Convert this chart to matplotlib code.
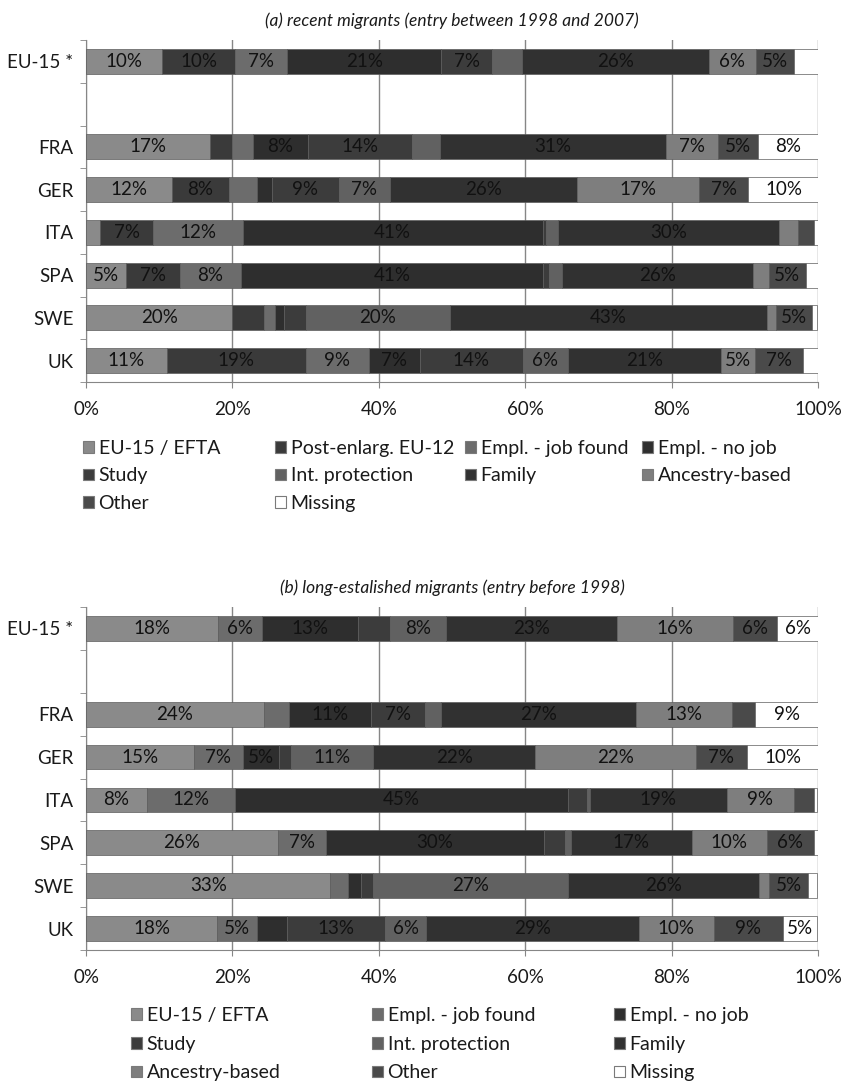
import matplotlib
matplotlib.use("Agg")
import matplotlib.pyplot as plt
from matplotlib import font_manager
from matplotlib.patches import Patch

W, H = 842, 1085

installed = {f.name for f in font_manager.fontManager.ttflist}
FONT = next((f for f in ["Liberation Sans Narrow", "Lato", "Roboto"] if f in installed), "DejaVu Sans")
plt.rcParams['font.family'] = [FONT, 'DejaVu Sans']

countries = ["EU-15 *", "FRA", "GER", "ITA", "SPA", "SWE", "UK"]
# row 1 stays empty to separate the EU-15 total from the countries
slots = [0, 2, 3, 4, 5, 6, 7]

# (a) recent migrants, shares in % per country (order as in countries)
a_eu15_efta = [10.4, 16.9, 11.8, 1.9, 5.4, 20.0, 11.0]
a_post_enlarg = [10.0, 3.1, 7.7, 7.3, 7.4, 4.3, 19.0]
a_job_found = [7.1, 2.8, 3.8, 12.2, 8.4, 1.5, 8.6]
a_no_job = [21.0, 7.5, 2.1, 41.0, 41.2, 1.3, 7.0]
a_study = [7.0, 14.2, 9.1, 0.5, 0.8, 2.9, 14.1]
a_int_prot = [4.0, 3.8, 7.0, 1.6, 1.8, 19.7, 6.1]
a_family = [25.6, 31.0, 25.6, 30.2, 26.1, 43.4, 21.0]
a_ancestry = [6.4, 7.1, 16.6, 2.6, 2.2, 1.1, 4.6]
a_other = [5.2, 5.4, 6.8, 2.1, 5.0, 5.0, 6.6]
a_missing = [3.3, 8.2, 9.6, 0.7, 1.7, 0.7, 2.0]

# (b) long-established migrants
b_eu15_efta = [18.1, 24.3, 14.7, 8.3, 26.2, 33.4, 17.9]
b_job_found = [6.0, 3.5, 6.8, 12.1, 6.6, 2.4, 5.4]
b_no_job = [13.0, 11.1, 4.8, 45.4, 29.7, 1.8, 4.2]
b_study = [4.4, 7.4, 1.7, 2.6, 2.9, 1.6, 13.3]
b_int_prot = [7.7, 2.2, 11.2, 0.5, 0.8, 26.6, 5.7]
b_family = [23.4, 26.7, 22.2, 18.6, 16.6, 26.2, 29.0]
b_ancestry = [15.8, 13.0, 21.9, 9.2, 10.2, 1.3, 10.3]
b_other = [6.0, 3.2, 7.0, 2.8, 6.4, 5.4, 9.4]
b_missing = [5.6, 8.6, 9.7, 0.3, 0.7, 1.2, 4.6]

a_names = ["EU-15 / EFTA", "Post-enlarg. EU-12", "Empl. - job found", "Empl. - no job",
           "Study", "Int. protection", "Family", "Ancestry-based", "Other", "Missing"]
a_series = [a_eu15_efta, a_post_enlarg, a_job_found, a_no_job, a_study,
            a_int_prot, a_family, a_ancestry, a_other, a_missing]

b_names = ["EU-15 / EFTA", "Empl. - job found", "Empl. - no job", "Study",
           "Int. protection", "Family", "Ancestry-based", "Other", "Missing"]
b_series = [b_eu15_efta, b_job_found, b_no_job, b_study, b_int_prot,
            b_family, b_ancestry, b_other, b_missing]

colors = {
    "EU-15 / EFTA": "#8a8a8a",
    "Post-enlarg. EU-12": "#3a3a3a",
    "Empl. - job found": "#6c6c6c",
    "Empl. - no job": "#2e2e2e",
    "Study": "#3c3c3c",
    "Int. protection": "#616161",
    "Family": "#313131",
    "Ancestry-based": "#7e7e7e",
    "Other": "#4a4a4a",
    "Missing": "#ffffff",
}
GRID = "#868686"


def draw_panel(ax, title, names, series):
    left = [0.0] * len(slots)
    for name, vals in zip(names, series):
        ax.barh(slots, vals, left=left, height=0.58, color=colors[name],
                edgecolor="#5c5c5c", linewidth=0.5, zorder=3)
        for y, x0, v in zip(slots, left, vals):
            if round(v) >= 5:
                ax.text(x0 + v / 2, y, f"{v:.0f}%", ha="center", va="center",
                        fontsize=13.5, color="#111111", zorder=4)
        left = [l + v for l, v in zip(left, vals)]

    ax.set_xlim(0, 100)
    ax.set_ylim(7.5, -0.5)
    ax.set_xticks(range(0, 101, 20))
    ax.set_xticklabels([f"{t}%" for t in range(0, 101, 20)])
    ax.set_yticks(slots)
    ax.set_yticklabels(countries)
    ax.set_yticks([i + 0.5 for i in range(-1, 8)], minor=True)
    ax.tick_params(axis="y", which="major", length=0, pad=9, labelsize=13.5, labelcolor="#1a1a1a")
    ax.tick_params(axis="y", which="minor", length=4, color=GRID)
    ax.tick_params(axis="x", length=4, color=GRID, pad=10, labelsize=13.5, labelcolor="#1a1a1a")
    ax.grid(axis="x", color=GRID, linewidth=1, zorder=0)
    for s in ("top", "right"):
        ax.spines[s].set_visible(False)
    for s in ("left", "bottom"):
        ax.spines[s].set_color(GRID)
    ax.set_title(title, style="italic", fontsize=12.5, pad=10, color="#1a1a1a")


def draw_legend(fig, names, ncol, xs, y_top, spacing):
    # one legend per column so the columns sit where Excel put them
    for c in range(ncol):
        items = names[c::ncol]
        handles = [Patch(facecolor=colors[n], edgecolor="#7a7a7a", linewidth=0.8) for n in items]
        fig.legend(handles, items, loc="upper left",
                   bbox_to_anchor=(xs[c] / W, 1 - y_top / H),
                   frameon=False, fontsize=14, handlelength=0.55, handleheight=0.55,
                   handletextpad=0.25, labelspacing=spacing, borderpad=0, borderaxespad=0,
                   labelcolor="#1a1a1a")


fig = plt.figure(figsize=(W / 100, H / 100), dpi=100)

ax_a = fig.add_axes([86 / W, 1 - 382 / H, 732 / W, 342 / H])
draw_panel(ax_a, "(a) recent migrants (entry between 1998 and 2007)", a_names, a_series)
draw_legend(fig, a_names, 4, [83, 275, 465, 642], 440, 0.54)

ax_b = fig.add_axes([86 / W, 1 - 950 / H, 732 / W, 343 / H])
draw_panel(ax_b, "(b) long-estalished migrants (entry before 1998)", b_names, b_series)
draw_legend(fig, b_names, 3, [131, 372, 614], 1007, 0.6)

fig.savefig("out.png", dpi=100)
